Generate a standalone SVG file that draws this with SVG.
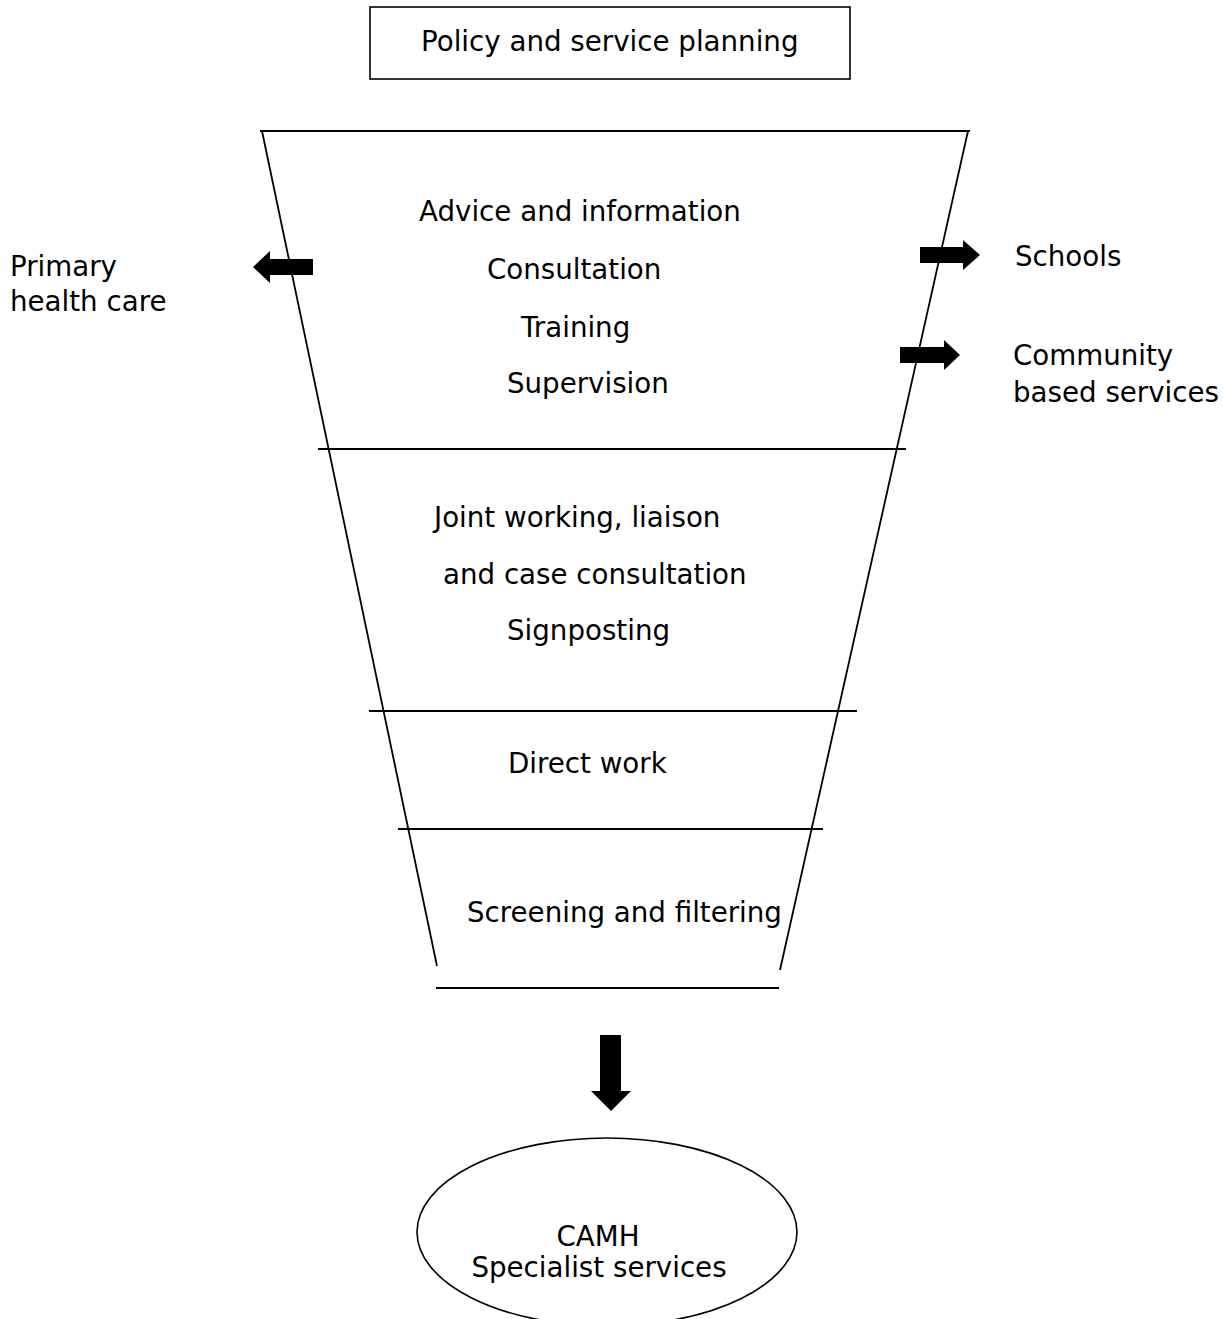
<svg xmlns="http://www.w3.org/2000/svg" width="1223" height="1319" viewBox="0 0 1223 1319">
<style>
text{font-family:"DejaVu Sans","Liberation Sans",sans-serif;font-size:27.7px;fill:#000}
.ln{stroke:#000;stroke-width:1.8;fill:none}
.ar{fill:#000;stroke:none}
</style>
<rect width="1223" height="1319" fill="#fff"/>
<g id="policy">
<rect x="370" y="7" width="480" height="72" fill="#fff" stroke="#000" stroke-width="1.6"/>
<text x="421" y="51">Policy and service planning</text>
</g>
<g id="funnel">
<line class="ln" x1="262" y1="131" x2="437" y2="966"/>
<line class="ln" x1="968" y1="131" x2="780" y2="970"/>
<line class="ln" x1="260" y1="131" x2="970" y2="131"/>
<line class="ln" x1="318" y1="449" x2="906" y2="449"/>
<line class="ln" x1="369" y1="711" x2="857" y2="711"/>
<line class="ln" x1="398" y1="829" x2="823" y2="829"/>
<line class="ln" x1="436" y1="988" x2="779" y2="988"/>
</g>
<g id="tier1">
<text x="419" y="221">Advice and information</text>
<text x="487" y="279">Consultation</text>
<text x="521" y="337">Training</text>
<text x="507" y="393">Supervision</text>
</g>
<g id="tier2">
<text x="434" y="527">Joint working, liaison</text>
<text x="443" y="584">and case consultation</text>
<text x="507" y="640">Signposting</text>
</g>
<g id="tier3">
<text x="508" y="773">Direct work</text>
</g>
<g id="tier4">
<text x="467" y="922">Screening and filtering</text>
</g>
<g id="primary">
<text x="10" y="276">Primary</text>
<text x="10" y="311">health care</text>
</g>
<g id="schools">
<text x="1015" y="266">Schools</text>
</g>
<g id="community">
<text x="1013" y="365">Community</text>
<text x="1013" y="402">based services</text>
</g>
<g id="camh">
<ellipse cx="607" cy="1232" rx="190" ry="94" fill="#fff" stroke="#000" stroke-width="1.6"/>
<text x="598" y="1246" text-anchor="middle">CAMH</text>
<text x="599" y="1277" text-anchor="middle">Specialist services</text>
</g>
<g id="connectors">
<polygon class="ar" points="313,259 270,259 270,251 253,267 270,283 270,275 313,275"/>
<polygon class="ar" points="920,247 963,247 963,240 980,255 963,270 963,263 920,263"/>
<polygon class="ar" points="900,347 944,347 944,340 960,355 944,370 944,363 900,363"/>
<polygon class="ar" points="600,1035 621,1035 621,1091 631,1091 611,1111 591,1091 600,1091"/>
</g>
</svg>
